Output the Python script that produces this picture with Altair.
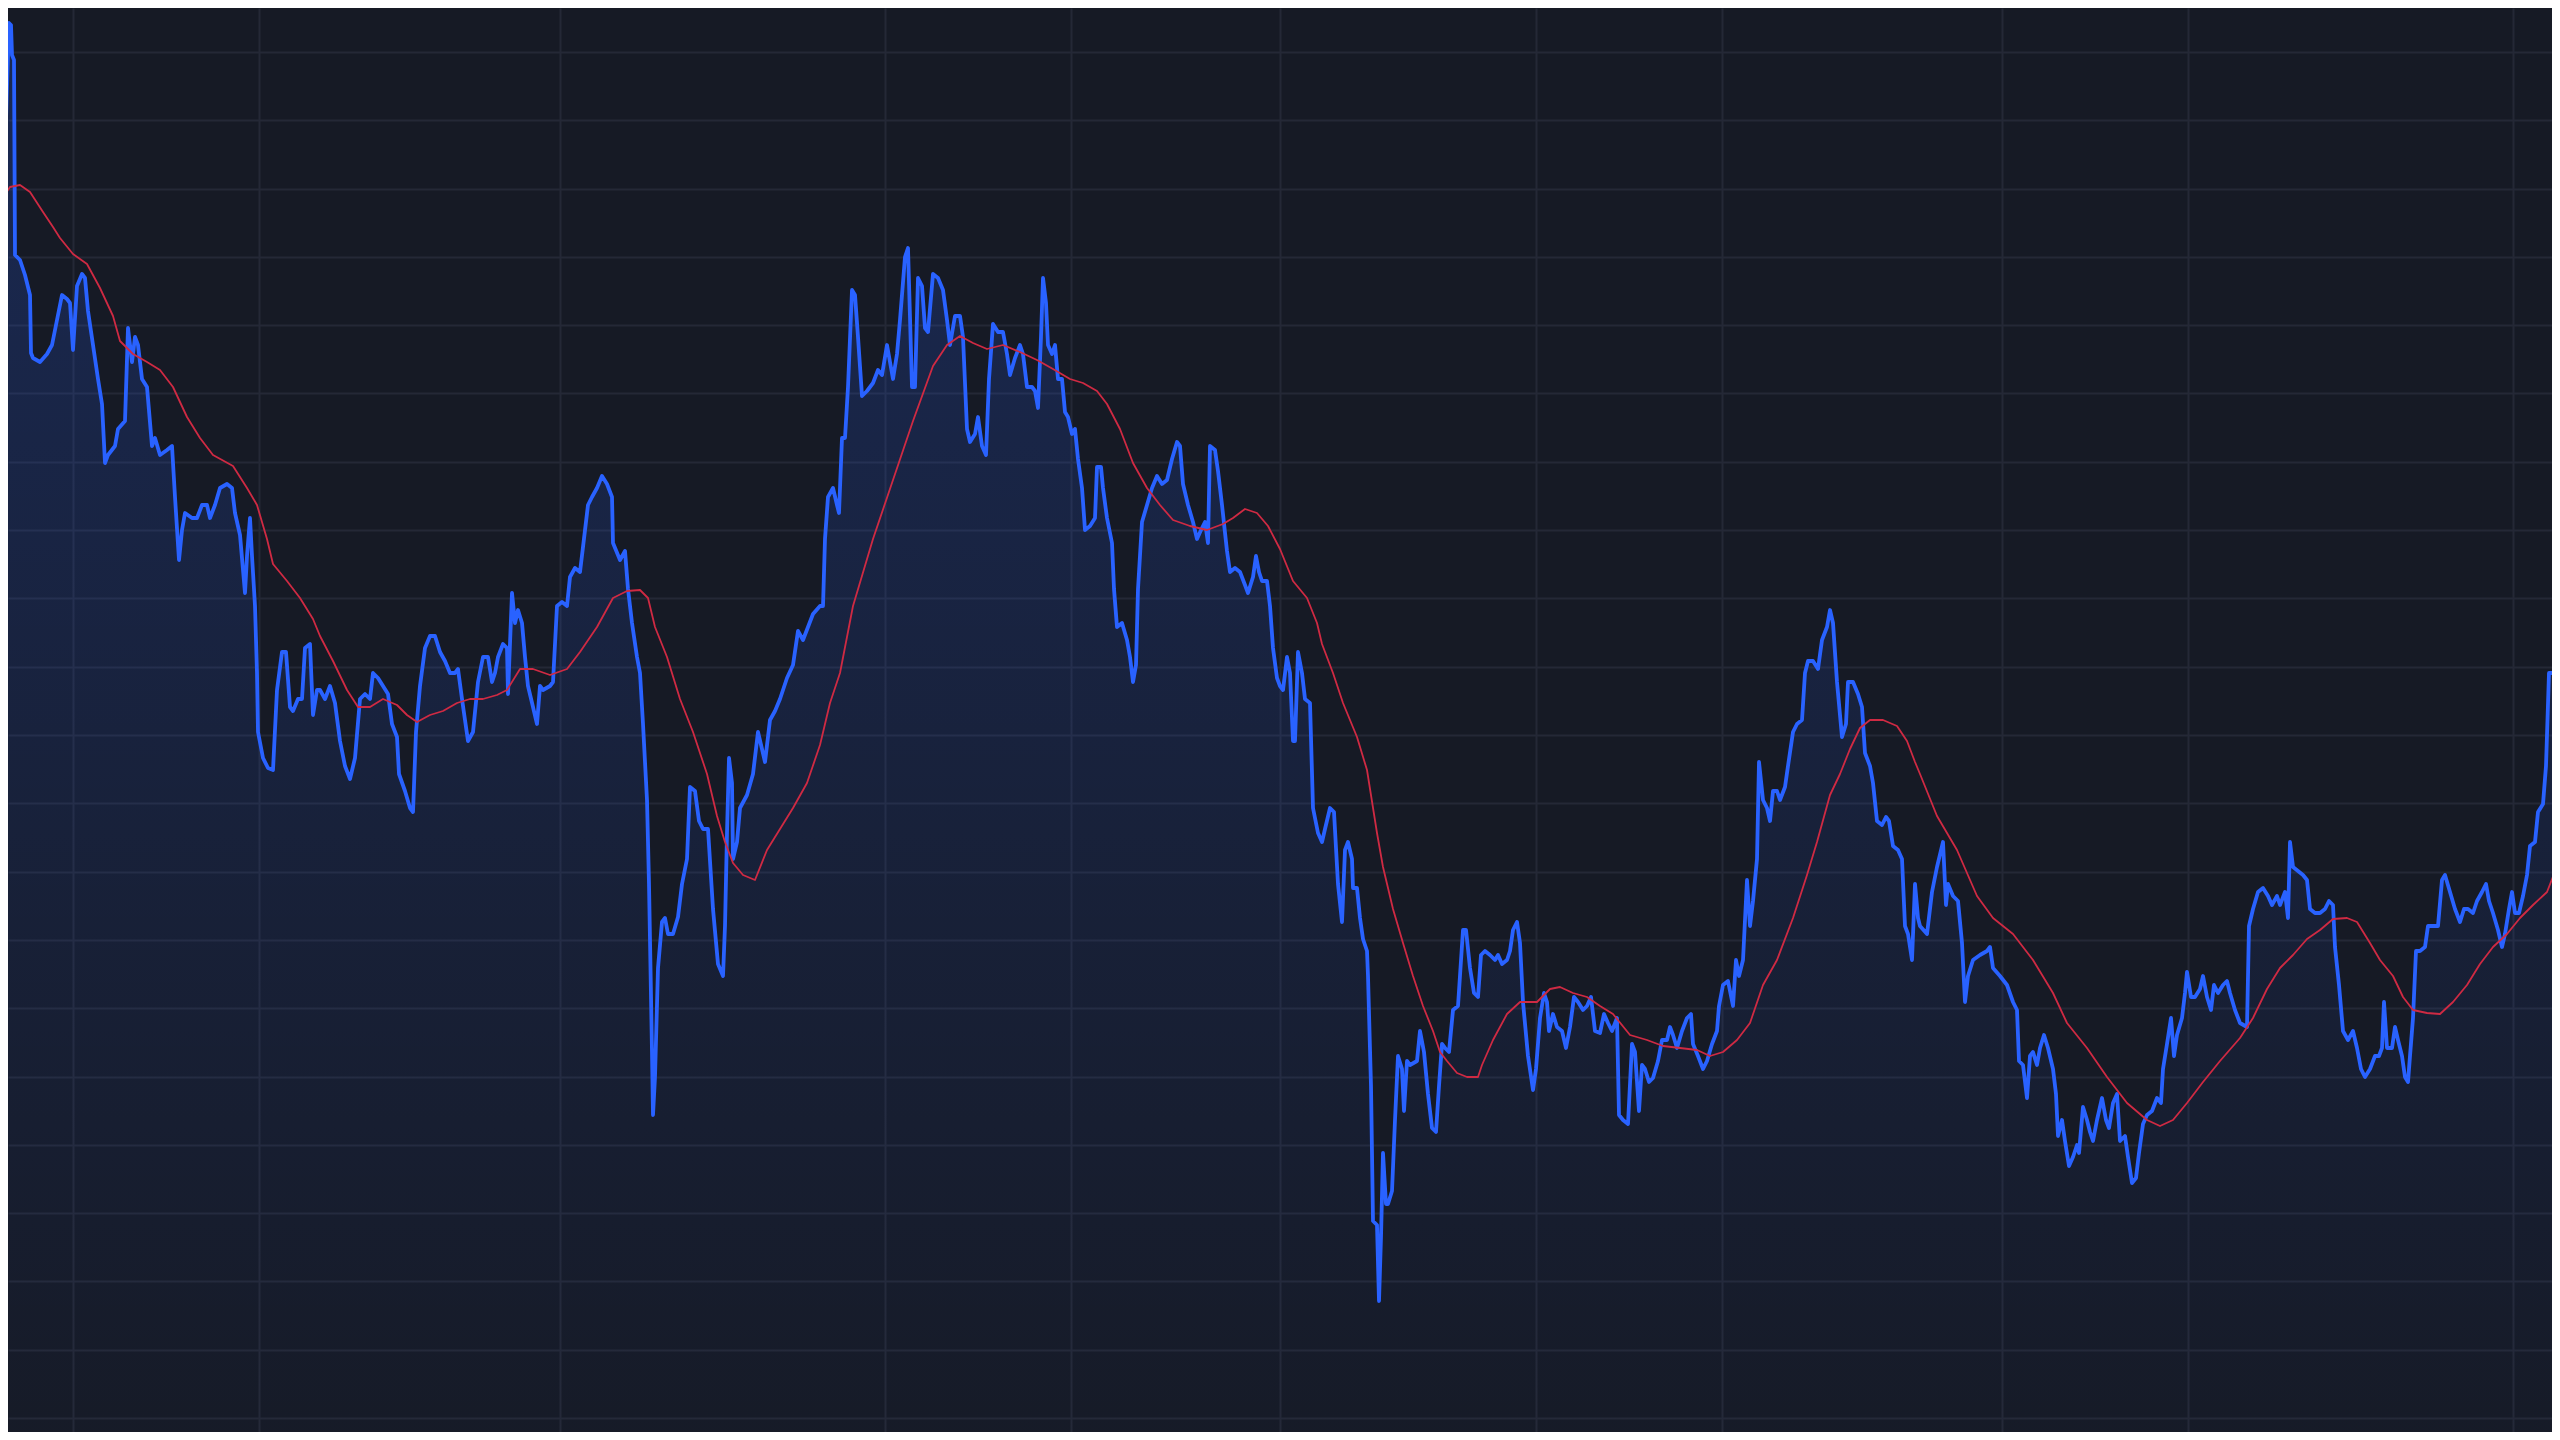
import altair as alt
import pandas as pd

# ---- data (t = session position, v = price level) ----
price_t = [0, 3, 6, 9, 11, 12, 14, 15, 20, 25, 30, 31, 33, 40, 47, 52, 57, 62, 67, 70, 73, 77, 82, 85, 88, 93, 98, 102, 105, 108, 115, 118, 125, 128, 132, 135, 138, 142, 147, 152, 155, 160, 167, 172, 175, 179, 182, 185, 192, 197, 202, 207, 210, 215, 220, 227, 232, 235, 240, 245, 247, 250, 252, 255, 257, 258, 263, 268, 273, 277, 282, 286, 290, 293, 298, 302, 305, 310, 313, 317,
           320, 325, 330, 335, 340, 345, 350, 355, 360, 365, 370, 373, 378, 383, 388, 392, 397, 399, 405, 410, 413, 416, 420, 425, 430, 435, 440, 445, 450, 455, 458, 462, 465, 468, 473, 478, 483, 488, 492, 495, 498, 503, 507, 508, 512, 515, 518, 522, 525, 528, 533, 537, 540, 543, 550, 553, 557, 562, 567, 570, 575, 580, 583, 588, 592, 597, 602, 607, 612, 613, 620, 625, 628, 632, 637,
           640, 643, 647, 649, 652, 653, 655, 658, 662, 665, 668, 673, 678, 682, 687, 690, 695, 699, 703, 708, 713, 718, 723, 725, 727, 729, 732, 733, 737, 740, 747, 753, 758, 762, 765, 770, 775, 780, 787, 793, 798, 803, 808, 813, 820, 823, 825, 828, 833, 837, 839, 842, 845, 848, 852, 855, 858, 862, 867, 873, 878, 882, 887, 890, 893, 897, 900, 905, 908, 912, 915, 918, 922, 925, 928, 933, 938, 943, 947, 950, 955,
           960, 963, 967, 970, 975, 978, 982, 986, 989, 993, 998, 1003, 1007, 1010, 1015, 1020, 1023, 1027, 1032, 1035, 1038, 1041, 1043, 1046, 1048, 1052, 1055, 1058, 1062, 1065, 1068, 1072, 1075, 1078, 1082, 1085, 1090, 1095, 1097, 1101, 1103, 1107, 1112, 1114, 1117, 1122, 1127, 1130, 1133, 1136, 1138, 1142, 1147, 1152, 1157, 1162, 1167, 1172, 1177, 1180, 1183, 1188, 1193, 1197, 1201, 1205, 1208, 1210, 1215, 1218, 1222, 1227, 1230, 1235, 1240, 1245, 1248, 1253, 1256, 1259, 1262, 1267, 1270, 1273, 1277,
           1280, 1283, 1287, 1290, 1293, 1295, 1298, 1302, 1305, 1310, 1313, 1318, 1322, 1325, 1330, 1334, 1338, 1342, 1345, 1348, 1352, 1353, 1357, 1360, 1363, 1367, 1368, 1371, 1373, 1377, 1379, 1381, 1383, 1386, 1388, 1392, 1395, 1398, 1402, 1404, 1407, 1410, 1417, 1420, 1424, 1428, 1432, 1436, 1439, 1442, 1445, 1449, 1453, 1458, 1463, 1466, 1470, 1474, 1478, 1481, 1485, 1490, 1495, 1498, 1502, 1507, 1510, 1513, 1517, 1520, 1523, 1528, 1533, 1536, 1540, 1544, 1547, 1549, 1553, 1557, 1562, 1566, 1570, 1574, 1578, 1583, 1587, 1591, 1595,
           1600, 1604, 1608, 1612, 1617, 1619, 1623, 1628, 1632, 1635, 1639, 1642, 1645, 1649, 1653, 1658, 1662, 1667, 1670, 1673, 1677, 1682, 1687, 1691, 1693, 1698, 1703, 1707, 1712, 1717, 1719, 1723, 1728, 1733, 1736, 1739, 1743, 1747, 1750, 1753, 1757, 1759, 1763, 1767, 1770, 1773, 1777, 1780, 1785, 1788, 1793, 1797, 1802, 1805, 1808, 1813, 1818, 1822, 1827, 1830, 1833, 1837, 1842, 1846, 1848, 1853, 1858, 1862, 1865, 1870, 1873, 1877, 1882, 1886, 1889, 1893, 1898, 1902, 1905, 1908, 1912, 1915, 1918,
           1920, 1927, 1932, 1937, 1943, 1946, 1948, 1953, 1958, 1962, 1965, 1968, 1973, 1980, 1987, 1990, 1993, 2000, 2007, 2013, 2017, 2019, 2023, 2027, 2030, 2033, 2037, 2040, 2044, 2048, 2053, 2056, 2058, 2062, 2065, 2069, 2073, 2077, 2079, 2083, 2087, 2090, 2093, 2097, 2102, 2106, 2109, 2113, 2117, 2120, 2125, 2128, 2132, 2136, 2139, 2143, 2147, 2152, 2157, 2161, 2163, 2167, 2171, 2174, 2177, 2182, 2185, 2187, 2191, 2195, 2200, 2203, 2207, 2211, 2214, 2218, 2223, 2227, 2230, 2235,
           2240, 2247, 2249, 2253, 2258, 2263, 2268, 2272, 2277, 2280, 2285, 2288, 2290, 2293, 2298, 2303, 2307, 2310, 2315, 2320, 2325, 2329, 2333, 2335, 2339, 2343, 2348, 2353, 2357, 2361, 2365, 2370, 2375, 2379, 2382, 2384, 2387, 2392, 2395, 2398, 2402, 2405, 2408, 2410, 2413, 2416, 2420, 2425, 2428, 2433, 2438, 2442, 2445, 2450, 2455, 2460, 2464, 2468, 2473, 2477, 2482, 2486, 2489, 2493, 2498, 2502, 2505, 2509, 2512, 2515, 2519, 2523, 2527, 2530, 2535, 2538, 2543, 2546, 2549, 2553, 2557, 2560]

price_v = [124.0, 124.2, 132.0, 141.7, 141.5, 138.5, 138.0, 118.5, 118.0, 116.5, 114.5, 108.7, 108.2, 107.8, 108.6, 109.5, 112.0, 114.5, 114.1, 113.7, 109.0, 115.4, 116.6, 116.2, 112.9, 109.5, 106.1, 103.6, 97.7, 98.5, 99.4, 101.1, 101.9, 111.2, 107.8, 110.3, 109.5, 106.1, 105.3, 99.4, 100.2, 98.5, 99.0, 99.4, 94.3, 88.0, 91.0, 92.7, 92.2, 92.2, 93.5, 93.5, 92.2, 93.5, 95.2, 95.6, 95.2, 92.7, 90.5, 84.7, 88.4, 92.2, 88.4, 83.4, 76.7, 70.8, 68.2, 67.2, 67.0, 75.0, 78.8, 78.8, 73.3, 72.9, 74.1, 74.1, 79.2, 79.6, 72.5, 75.0,
           75.0, 74.1, 75.4, 73.7, 69.9, 67.4, 66.1, 68.2, 74.1, 74.6, 74.1, 76.7, 76.2, 75.4, 74.6, 71.6, 70.3, 66.6, 64.9, 63.2, 62.8, 70.8, 75.4, 79.2, 80.4, 80.4, 78.8, 77.9, 76.7, 76.7, 77.1, 74.1, 72.0, 69.9, 70.8, 75.8, 78.3, 78.3, 75.8, 76.7, 78.3, 79.6, 79.2, 74.6, 84.7, 81.7, 83.0, 81.7, 78.3, 75.4, 73.3, 71.6, 75.4, 75.0, 75.4, 75.8, 83.4, 83.8, 83.4, 86.3, 87.2, 86.8, 89.3, 93.5, 94.3, 95.2, 96.4, 95.6, 94.3, 89.7, 88.0, 88.9, 85.1, 81.7, 78.3,
           76.7, 71.6, 64.0, 55.6, 38.8, 32.5, 36.3, 47.2, 51.8, 52.2, 50.6, 50.6, 52.3, 55.6, 58.1, 65.3, 64.9, 61.9, 61.1, 61.1, 53.1, 47.6, 46.4, 51.4, 60.7, 68.2, 65.7, 58.1, 59.8, 63.2, 64.5, 66.6, 70.8, 69.1, 67.8, 72.0, 72.9, 74.1, 76.2, 77.5, 80.9, 80.0, 81.3, 82.6, 83.4, 83.4, 90.1, 94.3, 95.2, 93.5, 92.7, 100.2, 100.2, 105.3, 115.0, 114.5, 110.3, 104.4, 104.9, 105.7, 107.0, 106.5, 109.5, 107.8, 106.1, 108.6, 112.0, 118.3, 119.2, 105.3, 105.3, 116.2, 115.4, 111.2, 110.8, 116.6, 116.2, 115.0, 112.0, 109.5, 112.4,
           112.4, 110.3, 101.1, 99.8, 100.6, 102.3, 99.4, 98.5, 106.1, 111.6, 110.8, 110.8, 108.6, 106.5, 108.2, 109.5, 108.6, 105.3, 105.3, 104.9, 103.2, 110.3, 116.2, 113.7, 109.5, 108.6, 109.5, 106.1, 106.1, 102.8, 102.3, 100.6, 101.1, 98.1, 95.2, 91.0, 91.4, 92.2, 97.3, 97.3, 95.2, 92.2, 89.7, 85.1, 81.3, 81.7, 80.0, 78.3, 75.8, 77.5, 85.1, 91.8, 93.5, 95.2, 96.4, 95.6, 96.0, 98.1, 99.8, 99.4, 95.6, 93.5, 91.8, 90.1, 91.0, 91.8, 89.7, 99.4, 99.0, 96.9, 93.5, 88.9, 86.8, 87.2, 86.8, 85.5, 84.7, 86.3, 88.4, 86.8, 85.9, 85.9, 83.4, 79.2, 76.2,
           75.4, 75.0, 78.3, 76.7, 69.9, 69.9, 78.8, 76.7, 74.1, 73.7, 63.2, 60.7, 59.8, 61.1, 63.2, 62.8, 55.6, 51.8, 59.0, 59.8, 58.1, 55.2, 55.2, 52.2, 50.1, 48.9, 46.4, 35.4, 21.9, 21.5, 13.9, 20.3, 28.7, 23.6, 23.6, 24.9, 32.0, 38.4, 37.1, 32.9, 37.9, 37.5, 37.9, 40.9, 38.8, 34.6, 31.2, 30.8, 35.4, 39.6, 39.2, 38.8, 43.0, 43.4, 51.0, 51.0, 47.2, 44.7, 44.3, 48.5, 48.9, 48.5, 48.0, 48.5, 47.6, 48.0, 48.9, 51.0, 51.8, 49.7, 43.8, 38.4, 35.0, 37.1, 42.2, 44.7, 43.8, 40.9, 42.6, 41.3, 40.9, 39.2, 41.3, 44.3, 43.8, 43.0, 43.4, 44.3, 40.9,
           40.7, 42.6, 41.7, 40.9, 42.2, 32.5, 32.0, 31.6, 39.6, 38.8, 32.9, 37.5, 37.1, 35.8, 36.2, 37.9, 40.0, 40.0, 41.3, 40.5, 39.2, 40.9, 42.2, 42.6, 39.6, 38.4, 37.1, 37.9, 39.6, 40.9, 43.4, 45.5, 45.9, 43.4, 48.0, 46.4, 48.0, 56.0, 51.4, 53.9, 58.1, 67.8, 64.0, 63.2, 61.9, 64.9, 64.9, 64.0, 65.3, 67.4, 70.8, 71.6, 72.0, 76.7, 77.9, 77.9, 77.1, 80.0, 81.3, 83.0, 81.7, 75.8, 70.3, 71.6, 75.8, 75.8, 74.6, 73.3, 68.7, 67.4, 65.7, 61.9, 61.5, 62.3, 61.9, 59.4, 59.0, 58.1, 51.4, 50.6, 48.0, 55.6, 52.2,
           51.4, 50.6, 54.8, 57.3, 59.8, 53.5, 55.6, 54.4, 53.9, 49.7, 43.8, 46.4, 48.0, 48.5, 48.9, 49.3, 47.2, 46.4, 45.5, 43.8, 43.0, 37.9, 37.5, 34.2, 38.4, 38.8, 37.5, 39.2, 40.5, 39.2, 37.1, 34.6, 30.4, 32.0, 29.9, 27.4, 28.3, 29.5, 28.7, 33.3, 32.0, 30.8, 29.9, 32.0, 34.2, 32.0, 31.2, 33.7, 34.6, 29.9, 30.4, 28.3, 25.7, 26.2, 28.7, 31.6, 32.5, 32.9, 34.2, 33.7, 37.1, 39.6, 42.2, 38.4, 40.5, 42.2, 44.7, 46.8, 44.3, 44.3, 45.1, 46.4, 44.3, 43.0, 45.5, 44.7, 45.5, 45.9, 44.7, 43.0,
           41.7, 41.3, 51.4, 53.1, 54.8, 55.2, 54.4, 53.5, 54.4, 53.5, 54.8, 52.2, 59.8, 57.3, 56.9, 56.5, 56.0, 53.1, 52.7, 52.7, 53.1, 53.9, 53.5, 49.3, 45.5, 40.9, 40.0, 40.9, 39.2, 37.1, 36.3, 37.1, 38.4, 38.4, 39.2, 43.8, 39.2, 39.2, 41.3, 40.0, 38.4, 36.3, 35.8, 38.4, 42.2, 48.9, 48.9, 49.3, 51.4, 51.4, 51.4, 56.0, 56.5, 54.8, 53.1, 51.8, 53.1, 53.1, 52.7, 53.9, 54.8, 55.6, 53.9, 52.7, 51.0, 49.3, 50.6, 53.1, 54.8, 52.7, 52.7, 54.4, 56.5, 59.4, 59.8, 62.8, 63.6, 67.4, 76.7, 76.7, 77.5, 73.3]

ma_t = [0, 10, 20, 30, 43, 53, 60, 73, 87, 100, 113, 120, 133, 147, 160, 173, 187, 200, 213, 233, 247, 257, 267, 273, 287, 300, 313, 320, 333, 347, 358, 370, 383, 397, 407, 417, 430, 443, 457, 470, 483, 497, 507, 520, 533, 550, 567, 580, 597, 613, 627, 640, 648, 655, 667, 680, 693, 707, 717, 725, 733, 743, 755, 767, 780, 793, 807, 820, 830, 840, 853, 873, 893, 913, 933, 947, 960, 973, 987, 1003, 1020, 1037, 1053, 1070, 1083, 1097, 1107, 1120, 1133, 1147, 1160, 1173, 1190, 1207, 1223, 1233, 1245, 1257, 1268, 1280, 1293, 1307, 1317, 1322, 1333, 1343, 1357, 1367, 1377, 1383, 1393, 1403, 1413, 1423, 1433, 1440, 1447, 1457, 1467, 1478, 1482, 1493, 1507, 1520, 1537, 1550, 1560, 1573, 1587, 1600, 1613, 1630, 1647, 1663, 1680, 1697, 1710, 1723, 1737, 1750, 1763, 1777, 1793, 1807, 1817, 1830, 1840, 1850, 1860, 1870, 1883, 1897, 1907, 1915, 1920, 1937, 1957, 1977, 1993, 2013, 2033, 2053, 2067, 2087, 2107, 2127, 2147, 2160, 2173, 2187, 2203, 2220, 2240, 2253, 2267, 2280, 2293, 2307, 2320, 2333, 2347, 2357, 2370, 2380, 2393, 2403, 2413, 2427, 2440, 2453, 2467, 2480, 2493, 2507, 2520, 2533, 2547, 2560]

ma_v = [123.8, 125.3, 125.5, 124.8, 122.8, 121.3, 120.2, 118.6, 117.6, 115.2, 112.4, 109.9, 108.6, 107.8, 107.0, 105.3, 102.3, 100.2, 98.5, 97.4, 95.2, 93.5, 90.1, 87.6, 85.9, 84.2, 82.1, 80.4, 77.9, 75.0, 73.3, 73.3, 74.1, 73.5, 72.5, 71.8, 72.5, 72.9, 73.7, 74.1, 74.1, 74.5, 75.0, 77.1, 77.1, 76.5, 77.1, 78.8, 81.3, 84.2, 84.9, 85.0, 84.2, 81.3, 78.3, 74.1, 70.8, 66.6, 62.4, 59.8, 57.7, 56.5, 56.0, 59.0, 61.1, 63.2, 65.7, 69.5, 73.7, 76.7, 83.4, 90.1, 96.0, 101.9, 107.4, 109.5, 110.4, 109.7, 109.1, 109.5, 108.8, 108.0, 107.1, 106.1, 105.7, 104.9, 103.6, 101.1, 97.7, 95.2, 93.5, 92.0, 91.4, 91.0, 91.6, 92.2, 93.1, 92.7, 91.4, 89.1, 85.9, 84.2, 81.7, 79.6, 76.7, 73.7, 70.3, 67.0, 60.7, 57.3, 53.1, 49.7, 46.4, 43.4, 40.9, 38.8, 37.9, 36.7, 36.3, 36.3, 37.5, 40.0, 42.6, 43.8, 43.8, 45.1, 45.3, 44.7, 44.3, 43.4, 42.6, 40.5, 40.0, 39.4, 39.2, 39.0, 38.4, 38.8, 40.0, 41.7, 45.5, 48.0, 52.2, 56.5, 59.8, 64.5, 66.6, 69.1, 71.2, 72.0, 72.0, 71.4, 69.9, 67.8, 66.6, 62.4, 59.0, 54.4, 52.2, 50.6, 48.0, 44.7, 41.7, 39.2, 36.3, 33.7, 32.0, 31.4, 32.0, 33.7, 35.8, 37.9, 40.2, 42.2, 45.1, 47.2, 48.5, 50.1, 51.0, 52.1, 52.2, 51.8, 49.7, 48.0, 46.4, 44.3, 43.0, 42.7, 42.6, 43.8, 45.5, 47.6, 49.3, 50.6, 52.2, 53.5, 54.8, 58.1]

# grid positions (time and price levels of the chart's gridlines)
grid_t = [72.7, 259, 560, 885, 1071, 1280, 1536, 1722, 2002, 2188, 2513]
grid_v = [138.8, 131.97, 125.14, 118.31, 111.48, 104.65, 97.82, 90.99, 84.16, 77.33, 70.5,
          63.67, 56.84, 50.01, 43.18, 36.35, 29.52, 22.69, 15.86, 9.03, 2.2]

price = pd.DataFrame({"t": price_t, "v": price_v})
ma = pd.DataFrame({"t": ma_t, "v": ma_v})

BG = "#161a25"
GRID = "#242836"
BLUE = "#2962ff"
RED = "#cf2a43"

xscale = alt.Scale(domain=[8, 2552], nice=False, zero=False)
yscale = alt.Scale(domain=[0.8, 143.2], nice=False, zero=False)

xaxis = alt.Axis(values=grid_t, grid=True, gridColor=GRID, gridWidth=2, domain=False,
                 labels=False, ticks=False, title=None)
yaxis = alt.Axis(values=grid_v, grid=True, gridColor=GRID, gridWidth=2, domain=False,
                 labels=False, ticks=False, title=None)

gradient = alt.Gradient(
    gradient="linear",
    stops=[alt.GradientStop(color="rgba(41,98,255,0.21)", offset=0),
           alt.GradientStop(color="rgba(41,98,255,0.01)", offset=1)],
    x1=1, x2=1, y1=0, y2=1,
)

area = alt.Chart(price).mark_area(color=gradient, clip=True).encode(
    x=alt.X("t:Q", scale=xscale, axis=xaxis),
    y=alt.Y("v:Q", scale=yscale, axis=yaxis),
    y2=alt.datum(0.8),
)

blue_line = alt.Chart(price).mark_line(color=BLUE, strokeWidth=3.8, clip=True,
                                       strokeJoin="round", strokeCap="round").encode(
    x=alt.X("t:Q", scale=xscale),
    y=alt.Y("v:Q", scale=yscale),
)

red_line = alt.Chart(ma).mark_line(color=RED, strokeWidth=1.8, clip=True,
                                   strokeJoin="round").encode(
    x=alt.X("t:Q", scale=xscale),
    y=alt.Y("v:Q", scale=yscale),
)

chart = alt.layer(area, blue_line, red_line).properties(
    width=2544, height=1424,
    background=BG,
    padding=0,
    autosize=alt.AutoSizeParams(type="none"),
).configure_view(stroke=None, fill=BG)

chart.save("out.html", embed_options={"renderer": "svg", "actions": False})
